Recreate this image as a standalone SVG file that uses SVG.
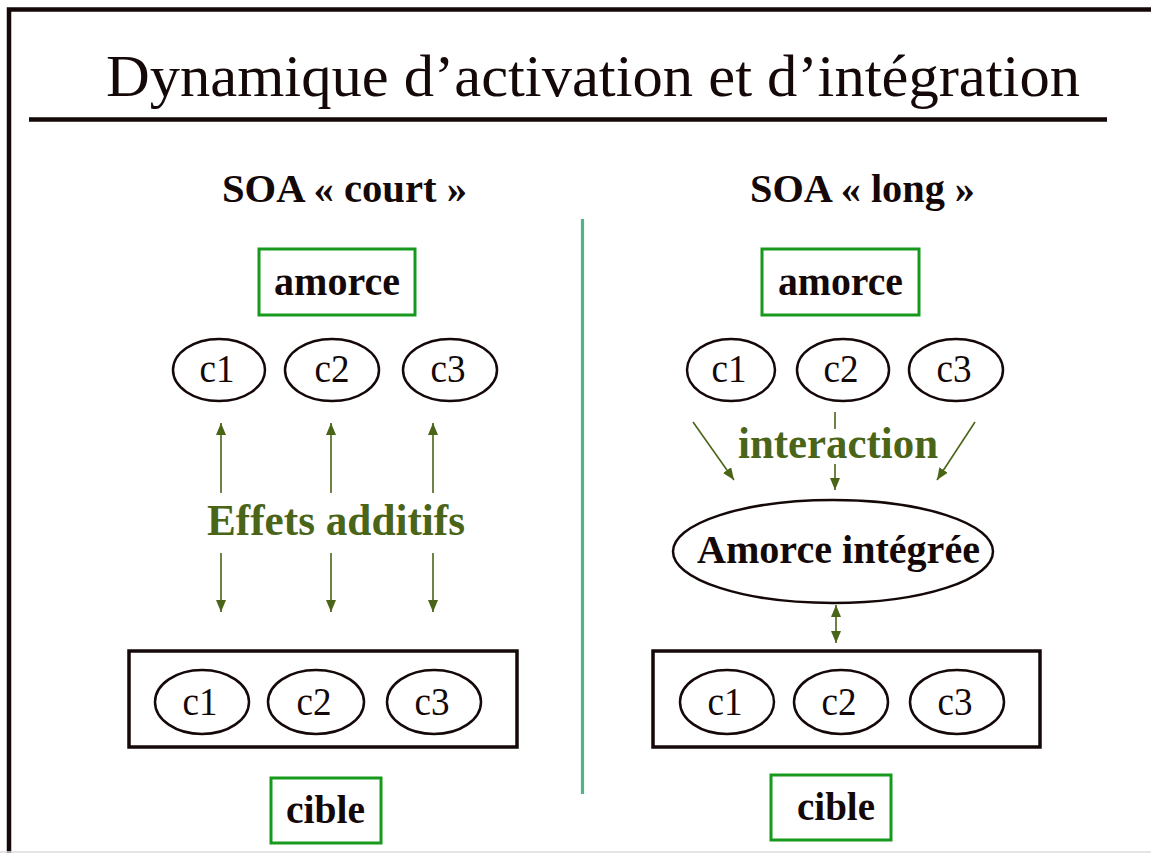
<svg xmlns="http://www.w3.org/2000/svg" width="1151" height="853" viewBox="0 0 1151 853">
<style>
text{font-family:"Liberation Serif","Times New Roman",serif;text-anchor:middle}
.title{font-size:60px;fill:#140808;text-anchor:start}
.head{font-size:40px;font-weight:bold;fill:#140808}
.lbl{font-size:41px;font-weight:bold;fill:#140808}
.c{font-size:41px;fill:#140808}
.olive{font-size:44px;font-weight:bold;fill:#4a6418}
.gbox{fill:none;stroke:#179a1c;stroke-width:3}
.ell{fill:none;stroke:#140808;stroke-width:2.5}
.bbox{fill:none;stroke:#140808;stroke-width:3.5}
.arr{stroke:#4a6418;stroke-width:1.6;fill:none}
</style>
<defs>
<marker id="ah" viewBox="0 0 12 10" refX="12" refY="5" markerWidth="12" markerHeight="10" markerUnits="userSpaceOnUse" orient="auto-start-reverse">
<path d="M0,0 L12,5 L0,10 Z" fill="#4a6418"/>
</marker>
</defs>
<rect width="1151" height="853" fill="#fff"/>
<g id="frame">
<path d="M9,853 V9.5 H1151" fill="none" stroke="#140808" stroke-width="4.5"/>
<line x1="0" y1="852" x2="1151" y2="852" stroke="#dcdcdc" stroke-width="1.5"/>
</g>
<g id="title">
<text class="title" x="106" y="96" textLength="974" lengthAdjust="spacingAndGlyphs">Dynamique d’activation et d’intégration</text>
<line x1="29" y1="119.5" x2="1107" y2="119.5" stroke="#140808" stroke-width="4.5"/>
</g>
<g id="divider"><line x1="582.5" y1="219" x2="582.5" y2="794" stroke="#4fb589" stroke-width="3.2"/></g>
<g id="head-court"><text class="head" x="344.5" y="202" textLength="245" lengthAdjust="spacingAndGlyphs">SOA « court »</text></g>
<g id="head-long"><text class="head" x="862.5" y="202" textLength="225" lengthAdjust="spacingAndGlyphs">SOA « long »</text></g>

<g id="amorce-left"><rect class="gbox" x="259" y="249" width="156" height="66"/><text class="lbl" x="337" y="295" textLength="126" lengthAdjust="spacingAndGlyphs">amorce</text></g>
<g id="amorce-right"><rect class="gbox" x="762" y="249" width="157" height="66"/><text class="lbl" x="840.5" y="295" textLength="125" lengthAdjust="spacingAndGlyphs">amorce</text></g>

<g id="left-top-c1"><ellipse class="ell" cx="219" cy="370" rx="46" ry="31"/><text class="c" x="217" y="382" textLength="35" lengthAdjust="spacingAndGlyphs">c1</text></g>
<g id="left-top-c2"><ellipse class="ell" cx="332" cy="370" rx="47" ry="31"/><text class="c" x="332" y="382" textLength="35" lengthAdjust="spacingAndGlyphs">c2</text></g>
<g id="left-top-c3"><ellipse class="ell" cx="450" cy="370" rx="47" ry="31"/><text class="c" x="448" y="382" textLength="35" lengthAdjust="spacingAndGlyphs">c3</text></g>

<g id="right-top-c1"><ellipse class="ell" cx="731" cy="370" rx="44" ry="31"/><text class="c" x="729" y="382" textLength="35" lengthAdjust="spacingAndGlyphs">c1</text></g>
<g id="right-top-c2"><ellipse class="ell" cx="843" cy="370" rx="46" ry="31"/><text class="c" x="841" y="382" textLength="35" lengthAdjust="spacingAndGlyphs">c2</text></g>
<g id="right-top-c3"><ellipse class="ell" cx="956" cy="370" rx="47" ry="31"/><text class="c" x="954" y="382" textLength="35" lengthAdjust="spacingAndGlyphs">c3</text></g>

<g id="effets"><text class="olive" x="336" y="535" textLength="258" lengthAdjust="spacingAndGlyphs">Effets additifs</text></g>
<g id="interaction"><text class="olive" x="838" y="458" textLength="200" lengthAdjust="spacingAndGlyphs">interaction</text></g>

<g id="amorce-integree"><ellipse class="ell" cx="833" cy="551.5" rx="160" ry="51.5"/><text class="lbl" x="838.5" y="563" textLength="283" lengthAdjust="spacingAndGlyphs">Amorce intégrée</text></g>

<g id="cible-set-left"><rect class="bbox" x="129" y="651" width="388" height="96"/>
<ellipse class="ell" cx="202" cy="702" rx="47" ry="32"/><text class="c" x="200" y="715" textLength="35" lengthAdjust="spacingAndGlyphs">c1</text>
<ellipse class="ell" cx="316" cy="702" rx="48" ry="32"/><text class="c" x="314" y="715" textLength="35" lengthAdjust="spacingAndGlyphs">c2</text>
<ellipse class="ell" cx="434" cy="702" rx="47" ry="32"/><text class="c" x="432" y="715" textLength="35" lengthAdjust="spacingAndGlyphs">c3</text></g>
<g id="cible-set-right"><rect class="bbox" x="653" y="651" width="387" height="96"/>
<ellipse class="ell" cx="727" cy="702" rx="47" ry="32"/><text class="c" x="725" y="715" textLength="35" lengthAdjust="spacingAndGlyphs">c1</text>
<ellipse class="ell" cx="841" cy="702" rx="47" ry="32"/><text class="c" x="839" y="715" textLength="35" lengthAdjust="spacingAndGlyphs">c2</text>
<ellipse class="ell" cx="957" cy="702" rx="47" ry="32"/><text class="c" x="955" y="715" textLength="35" lengthAdjust="spacingAndGlyphs">c3</text></g>

<g id="cible-left"><rect class="gbox" x="271" y="778" width="110" height="65"/><text class="lbl" x="325.5" y="823" textLength="79" lengthAdjust="spacingAndGlyphs">cible</text></g>
<g id="cible-right"><rect class="gbox" x="771" y="775" width="120" height="65"/><text class="lbl" x="836" y="820" textLength="78" lengthAdjust="spacingAndGlyphs">cible</text></g>

<g id="connectors">
<line class="arr" x1="221" y1="493" x2="221" y2="423" marker-end="url(#ah)"/>
<line class="arr" x1="331" y1="493" x2="331" y2="423" marker-end="url(#ah)"/>
<line class="arr" x1="433" y1="493" x2="433" y2="423" marker-end="url(#ah)"/>
<line class="arr" x1="221" y1="553" x2="221" y2="612" marker-end="url(#ah)"/>
<line class="arr" x1="331" y1="553" x2="331" y2="612" marker-end="url(#ah)"/>
<line class="arr" x1="433" y1="553" x2="433" y2="612" marker-end="url(#ah)"/>
<line class="arr" x1="693" y1="422" x2="734" y2="480" marker-end="url(#ah)"/>
<line class="arr" x1="835" y1="412" x2="835" y2="429"/>
<line class="arr" x1="835" y1="464" x2="835" y2="490" marker-end="url(#ah)"/>
<line class="arr" x1="975" y1="422" x2="937" y2="480" marker-end="url(#ah)"/>
<line class="arr" x1="836" y1="605" x2="836" y2="643" marker-start="url(#ah)" marker-end="url(#ah)"/>
</g>
</svg>
